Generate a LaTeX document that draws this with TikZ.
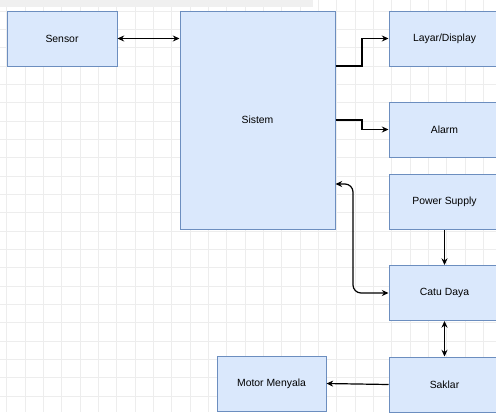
\documentclass[tikz,border=0pt]{standalone}
\usepackage{fontspec}
\setmainfont{Liberation Sans}
\usetikzlibrary{arrows.meta}
\definecolor{boxfill}{HTML}{DAE8FC}
\definecolor{boxline}{HTML}{6C8EBF}
\definecolor{gridline}{HTML}{EDEDED}
\tikzset{
  blok/.style={draw=boxline, fill=boxfill, line width=0.75pt, minimum width=82.5pt,
    minimum height=41.25pt, inner sep=0pt, font=\fontsize{7.8}{9}\selectfont},
  panah/.style={line width=0.9pt, -{Stealth[length=5pt,width=4.5pt]}},
  panahdua/.style={line width=0.9pt, {Stealth[length=5pt,width=4.5pt]}-{Stealth[length=5pt,width=4.5pt]}}
}
\begin{document}
\begin{tikzpicture}[x=0.75pt, y=-0.75pt]
  \useasboundingbox (0,0) rectangle (496,412);
  \fill[white] (0,0) rectangle (496,412);
  % background grid
  \foreach \i in {0,...,26} { \draw[gridline, line width=0.4pt] (6.7+18.33*\i,0) -- (6.7+18.33*\i,412); }
  \foreach \j in {0,...,22} { \draw[gridline, line width=0.4pt] (0,11+18.33*\j) -- (496,11+18.33*\j); }
  \fill[gray!12] (0,0) rectangle (313,7);
  % blocks
  \node[blok] (sensor) at (62,38.5) {Sensor};
  \node[blok, minimum width=116.25pt, minimum height=163.5pt] (sistem) at (257.5,120) {Sistem};
  \node[blok, minimum width=83.25pt] (layar) at (444.5,38.5) {Layar/Display};
  \node[blok, minimum width=83.25pt] (alarm) at (444.5,129.5) {Alarm};
  \node[blok, minimum width=83.25pt] (power) at (444.5,202) {Power Supply};
  \node[blok, minimum width=83.25pt] (catu) at (444.5,293) {Catu Daya};
  \node[blok, minimum width=83.25pt] (saklar) at (444.5,384.5) {Saklar};
  \node[blok, minimum width=81.75pt] (motor) at (271.5,383.5) {Motor Menyala};
  % connectors
  \draw[panahdua] (sensor.east) -- (sistem.west |- sensor.east);
  \draw[panah] (sistem.east |- 0,66) -- (362,66) |- (layar.west);
  \draw[panah] (sistem.east |- 0,120) -- (362,120) |- (alarm.west);
  \draw[panahdua, rounded corners=6pt] (sistem.east |- 0,184) -- (353,184) |- (catu.west);
  \draw[panah] (power.south) -- (catu.north);
  \draw[panahdua] (catu.south) -- (saklar.north);
  \draw[panah] (saklar.west) -- (motor.east);
\end{tikzpicture}
\end{document}
